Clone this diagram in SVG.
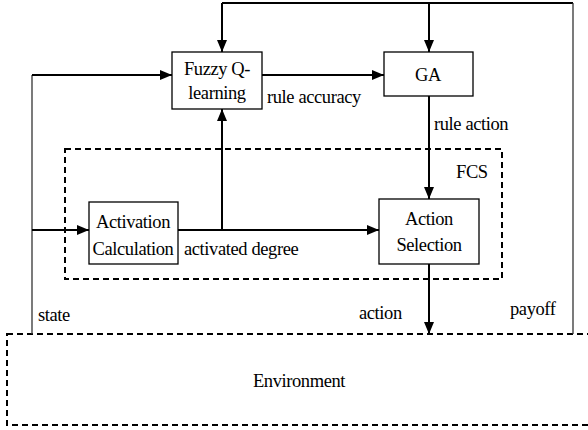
<svg xmlns="http://www.w3.org/2000/svg" width="588" height="430" viewBox="0 0 588 430" font-family="Liberation Serif, Times New Roman, Times, DejaVu Serif, serif">
<style>
text{font-family:'Liberation Serif','Times New Roman',Times,'DejaVu Serif',serif;font-size:18.5px;fill:#000;letter-spacing:-0.4px}
.box{fill:#fff;stroke:#000;stroke-width:1.3}
.dash{fill:none;stroke:#000;stroke-width:2;stroke-dasharray:6,4}
.c{fill:none;stroke:#000;stroke-width:2}
.t{fill:none;stroke:#333;stroke-width:1.3}
.m{text-anchor:middle}
</style>
<defs>
<marker id="ah" viewBox="0 0 12 10" refX="12" refY="5" markerWidth="12" markerHeight="10" markerUnits="userSpaceOnUse" orient="auto">
<path d="M0,0 L12,5 L0,10 Z" fill="#000"/>
</marker>
</defs>
<g id="fcs">
<rect class="dash" x="65" y="149" width="437" height="130"/>
<text x="456" y="178">FCS</text>
</g>
<g id="environment">
<rect class="dash" x="7" y="334" width="600" height="91"/>
<text class="m" x="299" y="387">Environment</text>
</g>
<g id="connectors">
<polyline class="c" points="222,3 573,3"/>
<polyline class="t" points="573,3 573,334"/>
<line class="c" x1="222" y1="3" x2="222" y2="52" marker-end="url(#ah)"/>
<line class="c" x1="429" y1="3" x2="429" y2="52" marker-end="url(#ah)"/>
<line class="t" x1="32" y1="75" x2="32" y2="334"/>
<line class="c" x1="32" y1="75" x2="172" y2="75" marker-end="url(#ah)"/>
<line class="c" x1="262" y1="75" x2="384" y2="75" marker-end="url(#ah)"/>
<line class="c" x1="32" y1="230" x2="89" y2="230" marker-end="url(#ah)"/>
<line class="c" x1="178" y1="230" x2="379" y2="230" marker-end="url(#ah)"/>
<line class="c" x1="222" y1="230" x2="222" y2="109" marker-end="url(#ah)"/>
<line class="c" x1="429" y1="96" x2="429" y2="199" marker-end="url(#ah)"/>
<line class="c" x1="429" y1="264" x2="429" y2="334" marker-end="url(#ah)"/>
<text x="267" y="103">rule accuracy</text>
<text x="434" y="130">rule action</text>
<text x="184" y="255">activated degree</text>
<text x="38" y="321">state</text>
<text x="359" y="319">action</text>
<text x="510" y="315">payoff</text>
</g>
<g id="fuzzy">
<rect class="box" x="172" y="52" width="90" height="57"/>
<text class="m" x="217" y="75">Fuzzy Q-</text>
<text class="m" x="217" y="99">learning</text>
</g>
<g id="ga">
<rect class="box" x="384" y="52" width="89" height="44"/>
<text class="m" x="428" y="81">GA</text>
</g>
<g id="activation">
<rect class="box" x="89" y="202" width="89" height="62"/>
<text class="m" x="133" y="228">Activation</text>
<text class="m" x="133" y="255">Calculation</text>
</g>
<g id="action-selection">
<rect class="box" x="379" y="199" width="100" height="65"/>
<text class="m" x="429" y="225">Action</text>
<text class="m" x="429" y="251">Selection</text>
</g>
</svg>
